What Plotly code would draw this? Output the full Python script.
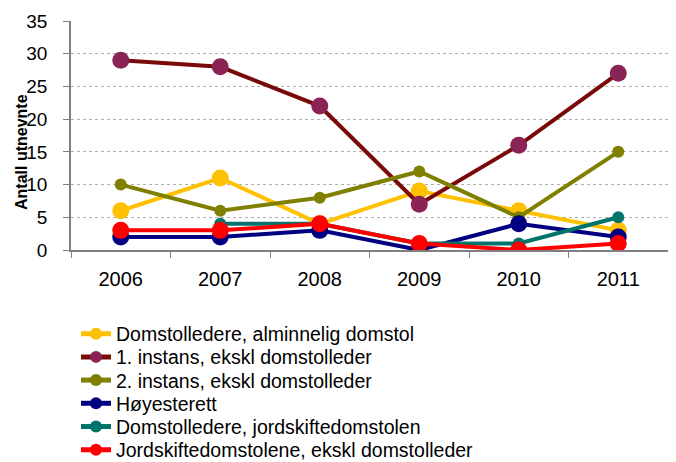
import plotly.graph_objects as go

years = ["2006", "2007", "2008", "2009", "2010", "2011"]
names = [
    "Domstolledere, alminnelig domstol",
    "1. instans, ekskl domstolleder",
    "2. instans, ekskl domstolleder",
    "Høyesterett",
    "Domstolledere, jordskiftedomstolen",
    "Jordskiftedomstolene, ekskl domstolleder",
]
domstolledere_alm = [6, 11, 4, 9, 6, 3]
forste_instans = [29, 28, 22, 7, 16, 27]
andre_instans = [10, 6, 8, 12, 5, 15]
hoyesterett = [2, 2, 3, 0, 4, 2]
domstolledere_jord = [None, 4, 4, 1, 1, 5]
jordskifte = [3, 3, 4, 1, 0, 1]

series = [domstolledere_alm, forste_instans, andre_instans, hoyesterett, domstolledere_jord, jordskifte]
line_colors = ["#FFC000", "#7A0A0A", "#7F7F00", "#000080", "#00746B", "#FF0000"]
marker_colors = ["#FFC000", "#8B2456", "#7F7F00", "#000080", "#00746B", "#FF0000"]
marker_sizes = [17, 17, 12, 17, 12, 17]

# The page body has an 8px default margin, so the figure is offset by 8px.
OFF = 8
W, H = 676 - OFF, 462 - OFF
ML, MR, MT, MB = 71 - OFF, 8, 21 - OFF, 212
plot_h = H - MT - MB
plot_w = W - ML - MR

legend_rows_px = [334, 357.2, 380.4, 403.6, 426.8, 450]
legend_left_px = 76

fig = go.Figure()
layout_legends = {}
for i, (name, vals, lc, mc, ms) in enumerate(zip(names, series, line_colors, marker_colors, marker_sizes)):
    lid = "legend" if i == 0 else f"legend{i + 1}"
    fig.add_trace(go.Scatter(
        x=years, y=vals, name=name, mode="lines+markers",
        line=dict(color=lc, width=4),
        marker=dict(color=mc, size=ms, line=dict(width=0)),
        connectgaps=False, legend=lid,
    ))
    layout_legends[lid] = dict(
        orientation="v",
        x=(legend_left_px - OFF - ML) / plot_w, xanchor="left",
        y=(H - MB - (legend_rows_px[i] - OFF)) / plot_h, yanchor="middle",
        font=dict(size=19.5), itemsizing="constant",
        bgcolor="rgba(0,0,0,0)", borderwidth=0,
    )

fig.update_layout(
    width=W, height=H,
    margin=dict(l=ML, r=MR, t=MT, b=MB, autoexpand=False),
    paper_bgcolor="white", plot_bgcolor="white",
    font=dict(family="Liberation Sans, Arial, sans-serif", color="#000000"),
    showlegend=True,
    xaxis=dict(
        type="category", range=[-0.5, 5.5], tickson="boundaries",
        ticks="outside", ticklen=6, tickcolor="#808080",
        showline=True, linecolor="#808080", linewidth=1.5,
        showgrid=False, tickfont=dict(size=20), ticklabelstandoff=10,
    ),
    yaxis=dict(
        range=[0, 35], dtick=5, ticks="outside", ticklen=6, tickcolor="#808080",
        showline=True, linecolor="#808080", linewidth=1.5,
        showgrid=True, gridcolor="#B0B0B0", griddash="dot", gridwidth=1,
        zeroline=False, tickfont=dict(size=19), ticklabelstandoff=12,
    ),
    annotations=[dict(
        text="<b>Antall utnevnte</b>", textangle=-90, showarrow=False,
        xref="paper", yref="paper",
        x=(21 - OFF - ML) / plot_w, y=(H - MB - (152 - OFF)) / plot_h,
        xanchor="center", yanchor="middle", font=dict(size=16),
    )],
    **layout_legends,
)

fig.write_html("out.html")
